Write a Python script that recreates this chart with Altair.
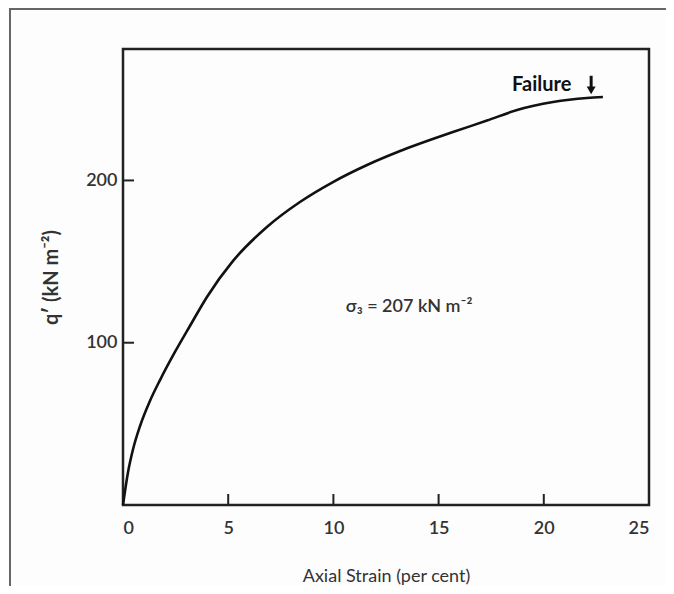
import altair as alt
import pandas as pd

# Stress–strain curve (axial strain in per cent, deviator stress q' in kN m^-2)
strain = [0, 0.24, 0.48, 0.81, 1.28, 1.76, 2.47, 3.18, 3.99, 5.23, 6.84, 8.41,
          9.98, 11.6, 13.17, 15.68, 17.3, 18.73, 20.44, 22.05, 22.81]
q_dev = [0, 20.3, 34.5, 48.7, 64.1, 77.0, 94.3, 110.3, 128.2, 150.4, 171.3, 186.7,
         199.0, 209.5, 218.1, 229.8, 236.9, 243.4, 248.3, 250.8, 251.4]

x_tick_labels = [0, 5, 10, 15, 20, 25]
x_inner_ticks = [5, 10, 15, 20]
y_tick_labels = [100, 200]

annot_text = ["σ₃ = 207 kN m⁻²"]
annot_x = [13.6]
annot_y = [122]

fail_text = ["Failure"]
fail_x = [19.9]
fail_y = [259]
fail_arrow_x = [22.25]
fail_arrow_top = [264.5]
fail_arrow_bot = [255.5]

W, H = 526, 456
FONT = "Lato"

curve = pd.DataFrame({"strain": strain, "q": q_dev})

xs = alt.Scale(domain=[0, 25], nice=False, zero=False)
ys = alt.Scale(domain=[0, 281], nice=False, zero=False)

line = alt.Chart(curve).mark_line(color="#111", strokeWidth=2.6, interpolate="monotone", clip=False).encode(
    x=alt.X("strain:Q", scale=xs,
            axis=alt.Axis(values=x_tick_labels, title="Axial Strain (per cent)", grid=False,
                          ticks=False, domain=False, labelFont=FONT, labelFontSize=18,
                          labelFontWeight=600, labelColor="#333", labelPadding=14,
                          titleFont=FONT, titleFontSize=18, titleFontWeight="normal",
                          titleColor="#333", titlePadding=30)),
    y=alt.Y("q:Q", scale=ys,
            axis=alt.Axis(values=y_tick_labels, title="q′ (kN m⁻²)", grid=False,
                          ticks=False, domain=False, labelFont=FONT, labelFontSize=18,
                          labelFontWeight=600, labelColor="#333", labelPadding=6,
                          titleFont=FONT, titleFontSize=20, titleFontWeight="bold",
                          titleColor="#333", titlePadding=24)),
)

xt = alt.Chart(pd.DataFrame({"t": x_inner_ticks})).mark_rule(color="#222", strokeWidth=2).encode(
    x=alt.X("t:Q", scale=xs), y=alt.value(H), y2=alt.value(H - 11))
yt = alt.Chart(pd.DataFrame({"t": y_tick_labels})).mark_rule(color="#222", strokeWidth=2).encode(
    y=alt.Y("t:Q", scale=ys), x=alt.value(0), x2=alt.value(11))

annot = alt.Chart(pd.DataFrame({"x": annot_x, "y": annot_y, "t": annot_text})).mark_text(
    font=FONT, fontSize=18, fontWeight=600, color="#333", align="center", baseline="middle").encode(
    x=alt.X("x:Q", scale=xs), y=alt.Y("y:Q", scale=ys), text="t:N")

fail = alt.Chart(pd.DataFrame({"x": fail_x, "y": fail_y, "t": fail_text})).mark_text(
    font=FONT, fontSize=20, fontWeight="bold", color="#111", align="center", baseline="middle").encode(
    x=alt.X("x:Q", scale=xs), y=alt.Y("y:Q", scale=ys), text="t:N")

arrow_df = pd.DataFrame({"x": fail_arrow_x, "y": fail_arrow_top, "y2": fail_arrow_bot})
arrow_shaft = alt.Chart(arrow_df).mark_rule(color="#111", strokeWidth=3).encode(
    x=alt.X("x:Q", scale=xs), y=alt.Y("y:Q", scale=ys), y2="y2:Q")
arrow_head = alt.Chart(arrow_df).mark_point(shape="triangle-down", filled=True, color="#111",
                                             size=80, opacity=1).encode(
    x=alt.X("x:Q", scale=xs), y=alt.Y("y2:Q", scale=ys))

border_left = alt.Chart(pd.DataFrame({"a": [0]})).mark_rule(color="#666", strokeWidth=2).encode(
    x=alt.value(-113), y=alt.value(-41), y2=alt.value(H + 90))
border_top = alt.Chart(pd.DataFrame({"a": [0]})).mark_rule(color="#666", strokeWidth=2).encode(
    y=alt.value(-40), x=alt.value(-114), x2=alt.value(W + 20))

chart = alt.layer(border_left, border_top, line, xt, yt, annot, fail, arrow_shaft, arrow_head).properties(
    width=W, height=H,
    autosize=alt.AutoSizeParams(type="none"),
    padding={"left": 115, "top": 41, "right": 17, "bottom": 81},
    background="#fdfdfd",
).configure_view(stroke="#222", strokeWidth=2.5)

chart.save("out.html", embed_options={"renderer": "svg", "actions": False})
